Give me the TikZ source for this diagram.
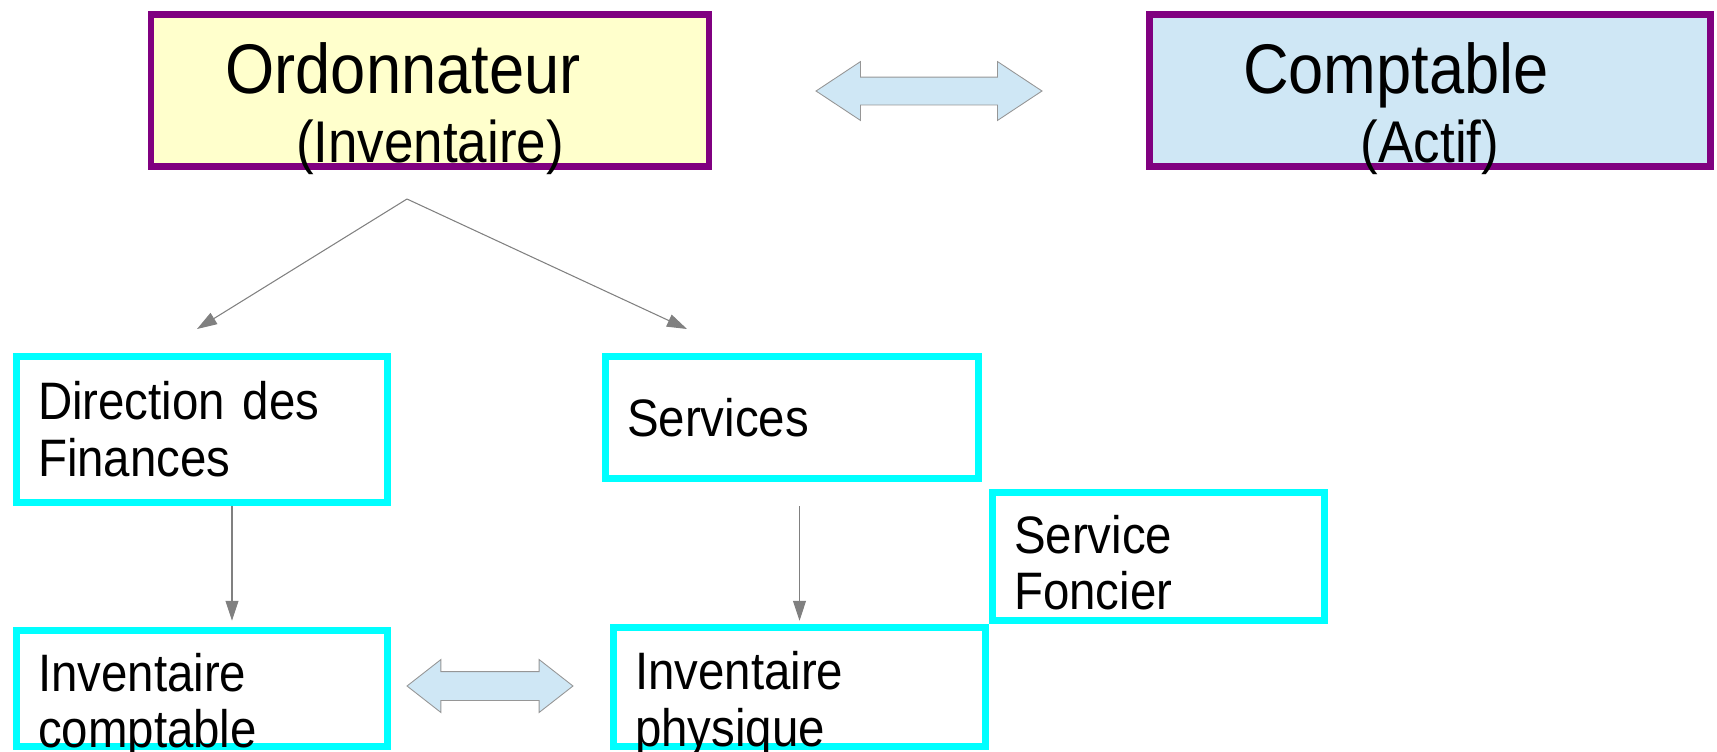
\documentclass[tikz,border=0pt]{standalone}
\usepackage{fontspec}
\setmainfont{Liberation Sans}[FakeStretch=0.9]
\usetikzlibrary{arrows.meta,positioning,shapes.arrows}
\definecolor{ordoline}{RGB}{128,0,128}
\definecolor{ordofill}{RGB}{255,255,204}
\definecolor{comptafill}{RGB}{207,231,245}
\definecolor{boxline}{RGB}{0,255,255}
\definecolor{linkgray}{RGB}{128,128,128}
\definecolor{arrowgray}{RGB}{150,150,150}

\begin{document}
\begin{tikzpicture}[
    x=0.02cm, y=-0.02cm,
    head/.style={rectangle, draw=ordoline, line width=0.134cm, align=center, inner sep=0.2cm,
        text height=0.1cm, text depth=0pt, font=\fontsize{40}{39.3}\selectfont},
    box/.style={rectangle, draw=boxline, line width=0.15cm, align=left, inner xsep=0.43cm,
        font=\fontsize{30}{32.4}\selectfont},
    firstline/.style={text height=0.1cm, text depth=0pt},
    link/.style={draw=linkgray, line width=0.6pt, -{Triangle[length=0.4cm, width=0.26cm]}},
    twoway/.style={double arrow, draw=arrowgray, fill=comptafill, line width=0.5pt, inner xsep=0pt}
]
    \useasboundingbox (0,0) rectangle (1717,751);

    % top row
    \node[head, fill=ordofill, text width=10.76cm, minimum height=3.04cm] (ordo) at (430,90.5)
        {Ordonnateur\hspace*{1.08cm}\mbox{}\\{\fontsize{33.5}{39.3}\selectfont(Inventaire)}};
    \node[head, fill=comptafill, text width=10.82cm, minimum height=3.04cm] (compta) at (1430,90.5)
        {Comptable\hspace*{1.36cm}\mbox{}\\{\fontsize{33.5}{39.3}\selectfont(Actif)}};
    \node[twoway, minimum height=4.52cm, minimum width=1.16cm, inner ysep=0.27cm,
        double arrow head extend=0.31cm, double arrow tip angle=67] (link1) at (929,91) {};

    % split towards the two branches
    \coordinate (apex) at (407,199);
    \coordinate (lefttip) at (197,329);
    \coordinate (righttip) at (687,329);
    \draw[link] (apex) -- (lefttip);
    \draw[link] (apex) -- (righttip);

    % branches
    \node[box, text width=6.56cm, minimum height=2.92cm] (fin) at (202,429.5) {Direction des\\Finances};
    \node[box, text width=6.60cm, minimum height=2.44cm] (serv) at (792,417.5) {Services};
    \node[box, text height=0pt, text depth=0.14cm, text width=5.78cm, minimum height=2.56cm] (foncier)
        at (1158.5,556.5) {Service\\Foncier};
    \node[box, firstline, text width=6.56cm, minimum height=2.32cm] (invcompta) at (202,688.5) {Inventaire\\comptable};
    \node[box, firstline, text width=6.58cm, minimum height=2.38cm] (invphys) at (799.5,687) {Inventaire\\physique};
    \node[twoway, minimum height=3.32cm, minimum width=1.04cm, inner ysep=0.28cm,
        double arrow head extend=0.24cm, double arrow tip angle=76] (link2) at (490,686) {};

    \draw[link, shorten >=0.12cm] ([xshift=0.6cm]fin.south) -- ([xshift=0.6cm]fin.south |- invcompta.north);
    \draw[link, shorten <=0.48cm, shorten >=0.06cm] (serv.south -| invphys.north) -- (invphys.north);
\end{tikzpicture}
\end{document}
